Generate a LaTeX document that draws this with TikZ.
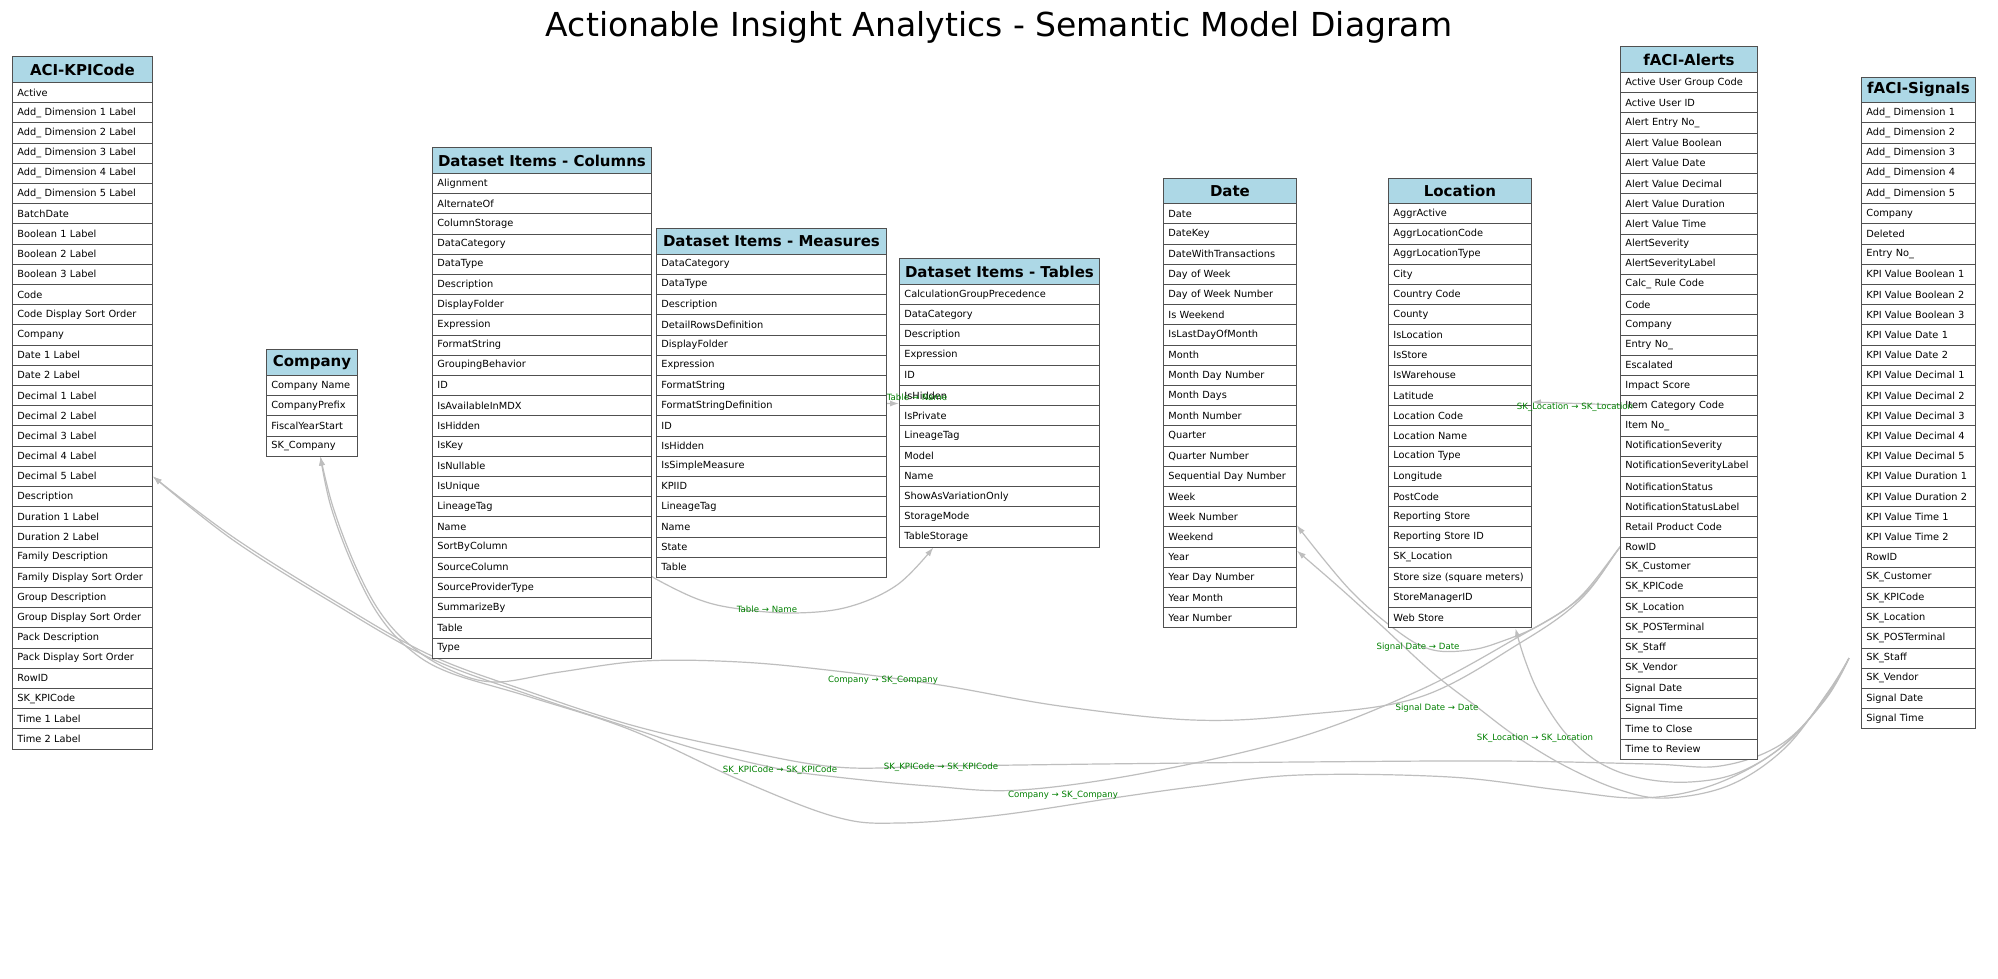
\documentclass[tikz,border=0pt]{standalone}
\usepackage{fontspec}
\setmainfont{DejaVu Sans}
\usetikzlibrary{arrows.meta}
\pgfdeclarelayer{edgelayer}
\pgfdeclarelayer{labellayer}
\pgfsetlayers{edgelayer,main,labellayer}
\definecolor{hdrfill}{RGB}{173,216,230}
\definecolor{bordergray}{RGB}{80,80,80}
\definecolor{edgegray}{RGB}{190,190,190}
\definecolor{lblgreen}{RGB}{0,128,0}
\tikzset{
  hdr/.style={draw=bordergray, fill=hdrfill, line width=0.9pt, inner sep=0pt, minimum height=25.6pt, font=\fontsize{15}{16}\selectfont\bfseries},
  rowcell/.style={draw=bordergray, fill=white, line width=0.8pt, inner xsep=5pt, inner ysep=0pt, minimum height=20.2pt, align=left, font=\fontsize{9.8}{11}\selectfont},
  rel/.style={draw=edgegray, line width=1.2pt, -{Latex[length=9pt,width=6pt]}},
  rellabel/.style={text=lblgreen, font=\fontsize{8.6}{9}\selectfont, inner sep=0pt},
  titletext/.style={font=\fontsize{33}{36}\selectfont, inner sep=0pt}
}
\newcommand{\dbtable}[6]{%
  \pgfmathsetmacro{\tbtop}{402.5-(25.6+#4*20.2)/2}%
  \pgfmathsetmacro{\tbtw}{#3-10}%
  \node[hdr, minimum width=#3pt, anchor=north west] (#1) at (#2,\tbtop) {#5};%
  \foreach \rowtext [count=\ri] in {#6} {%
    \pgfmathsetmacro{\rowy}{\tbtop+25.6+(\ri-1)*20.2}%
    \node[rowcell, text width=\tbtw pt, anchor=north west] (#1-\ri) at (#2,\rowy) {\mbox{\rowtext}};%
  }%
}
\begin{document}
\begin{tikzpicture}[x=1pt,y=-1pt]
\path[use as bounding box] (0,0) rectangle (1998,978);
\node[titletext, anchor=base] (title) at (999,36) {Actionable Insight Analytics - Semantic Model Diagram};

\dbtable{kpi}{12}{140}{33}{ACI-KPICode}{Active, Add\_ Dimension 1 Label, Add\_ Dimension 2 Label, Add\_ Dimension 3 Label, Add\_ Dimension 4 Label, Add\_ Dimension 5 Label, BatchDate, Boolean 1 Label, Boolean 2 Label, Boolean 3 Label, Code, Code Display Sort Order, Company, Date 1 Label, Date 2 Label, Decimal 1 Label, Decimal 2 Label, Decimal 3 Label, Decimal 4 Label, Decimal 5 Label, Description, Duration 1 Label, Duration 2 Label, Family Description, Family Display Sort Order, Group Description, Group Display Sort Order, Pack Description, Pack Display Sort Order, RowID, SK\_KPICode, Time 1 Label, Time 2 Label}
\dbtable{company}{266}{91}{4}{Company}{Company Name, CompanyPrefix, FiscalYearStart, SK\_Company}
\dbtable{cols}{432}{219}{24}{Dataset Items - Columns}{Alignment, AlternateOf, ColumnStorage, DataCategory, DataType, Description, DisplayFolder, Expression, FormatString, GroupingBehavior, ID, IsAvailableInMDX, IsHidden, IsKey, IsNullable, IsUnique, LineageTag, Name, SortByColumn, SourceColumn, SourceProviderType, SummarizeBy, Table, Type}
\dbtable{meas}{656}{230}{16}{Dataset Items - Measures}{DataCategory, DataType, Description, DetailRowsDefinition, DisplayFolder, Expression, FormatString, FormatStringDefinition, ID, IsHidden, IsSimpleMeasure, KPIID, LineageTag, Name, State, Table}
\dbtable{tabs}{899}{200}{13}{Dataset Items - Tables}{CalculationGroupPrecedence, DataCategory, Description, Expression, ID, IsHidden, IsPrivate, LineageTag, Model, Name, ShowAsVariationOnly, StorageMode, TableStorage}
\dbtable{date}{1163}{133}{21}{Date}{Date, DateKey, DateWithTransactions, Day of Week, Day of Week Number, Is Weekend, IsLastDayOfMonth, Month, Month Day Number, Month Days, Month Number, Quarter, Quarter Number, Sequential Day Number, Week, Week Number, Weekend, Year, Year Day Number, Year Month, Year Number}
\dbtable{loc}{1388}{143}{21}{Location}{AggrActive, AggrLocationCode, AggrLocationType, City, Country Code, County, IsLocation, IsStore, IsWarehouse, Latitude, Location Code, Location Name, Location Type, Longitude, PostCode, Reporting Store, Reporting Store ID, SK\_Location, Store size (square meters), StoreManagerID, Web Store}
\dbtable{alerts}{1620}{137}{34}{fACI-Alerts}{Active User Group Code, Active User ID, Alert Entry No\_, Alert Value Boolean, Alert Value Date, Alert Value Decimal, Alert Value Duration, Alert Value Time, AlertSeverity, AlertSeverityLabel, Calc\_ Rule Code, Code, Company, Entry No\_, Escalated, Impact Score, Item Category Code, Item No\_, NotificationSeverity, NotificationSeverityLabel, NotificationStatus, NotificationStatusLabel, Retail Product Code, RowID, SK\_Customer, SK\_KPICode, SK\_Location, SK\_POSTerminal, SK\_Staff, SK\_Vendor, Signal Date, Signal Time, Time to Close, Time to Review}
\dbtable{signals}{1861}{114}{31}{fACI-Signals}{Add\_ Dimension 1, Add\_ Dimension 2, Add\_ Dimension 3, Add\_ Dimension 4, Add\_ Dimension 5, Company, Deleted, Entry No\_, KPI Value Boolean 1, KPI Value Boolean 2, KPI Value Boolean 3, KPI Value Date 1, KPI Value Date 2, KPI Value Decimal 1, KPI Value Decimal 2, KPI Value Decimal 3, KPI Value Decimal 4, KPI Value Decimal 5, KPI Value Duration 1, KPI Value Duration 2, KPI Value Time 1, KPI Value Time 2, RowID, SK\_Customer, SK\_KPICode, SK\_Location, SK\_POSTerminal, SK\_Staff, SK\_Vendor, Signal Date, Signal Time}

% connector end points
\coordinate (kTip) at (kpi-20.east);
\coordinate (cTip) at ([xshift=8.5pt]company-4.south);
\coordinate (tTipB) at ([xshift=-66pt]tabs-13.south);
\coordinate (tTipL) at ([yshift=-8pt]tabs-6.west);
\coordinate (lTip1) at ([yshift=-6.5pt]loc-10.east);
\coordinate (lTip2) at ([xshift=55.5pt]loc-21.south);
\coordinate (d1Tip) at ([yshift=-8.5pt]date-16.east);
\coordinate (d2Tip) at ([yshift=6.5pt]date-18.east);
\coordinate (aOut) at ([xshift=-38.5pt]alerts-22.center);
\coordinate (aOut2) at ([xshift=-48.5pt]alerts-17.center);
\coordinate (sOut) at ([xshift=-12pt]signals-28.west);
\coordinate (tn1s) at ([xshift=-11pt]cols-20.east);
\coordinate (tn2s) at ([xshift=-16pt,yshift=2pt]meas-8.east);

\begin{pgfonlayer}{edgelayer}
\fill[white] (0,0) rectangle (1998,978);
% Table -> Name (bottom)
\draw[rel] plot[smooth, tension=0.6] coordinates {(tn1s) (656,579) (700,600) (740,609) (794,613) (848,607) (897,585) (tTipB)};
% Table -> Name (side)
\draw[rel] (tn2s) -- (tTipL);
% SK_Location (Alerts)
\draw[rel] (aOut2) -- (lTip1);
% Company (Alerts)
\draw[rel] plot[smooth, tension=0.6] coordinates {(aOut) (1620,547) (1580,600) (1520,643) (1420,697) (1300,715) (1193,720) (1060,706) (940,685) (836,671) (740,662) (644,661) (560,672) (495,682) (450,670) (410,645) (380,612) (355,565) (333,507) (cTip)};
% SK_KPICode (Alerts)
\draw[rel] plot[smooth, tension=0.6] coordinates {(aOut) (1620,547) (1580,598) (1513,640) (1420,690) (1300,737) (1150,772) (1020,790) (930,786) (836,777) (780,769) (700,750) (631,728) (530,695) (430,658) (333,603) (233,540) (kTip)};
% Signal Date (Alerts)
\draw[rel] plot[smooth, tension=0.6] coordinates {(aOut) (1620,547) (1580,597) (1540,625) (1500,642) (1470,650) (1433,650) (1400,633) (1350,590) (d1Tip)};
% Company (Signals)
\draw[rel] plot[smooth, tension=0.6] coordinates {(sOut) (1825,700) (1775,752) (1710,786) (1640,798) (1560,790) (1450,777) (1300,775) (1200,786) (1120,797) (1000,815) (900,823) (836,817) (740,780) (631,730) (530,697) (448,672) (408,648) (378,614) (353,566) (331,507) (cTip)};
% SK_KPICode (Signals)
\draw[rel] plot[smooth, tension=0.6] coordinates {(sOut) (1822,703) (1780,745) (1720,766) (1650,764) (1500,761) (1300,762) (1100,764) (941,766) (836,767) (730,748) (631,725) (530,692) (430,655) (333,600) (233,537) (kTip)};
% Signal Date (Signals)
\draw[rel] plot[smooth, tension=0.6] coordinates {(sOut) (1828,692) (1785,748) (1730,785) (1667,798) (1620,790) (1567,767) (1517,737) (1477,707) (1433,673) (1383,627) (1340,588) (d2Tip)};
% SK_Location (Signals)
\draw[rel] plot[smooth, tension=0.6] coordinates {(sOut) (1830,690) (1790,740) (1740,772) (1690,782) (1640,778) (1600,763) (1567,735) (1540,695) (1525,660) (lTip2)};
\end{pgfonlayer}

\begin{pgfonlayer}{labellayer}
\node[rellabel] (l-tn1) at (767,609) {Table → Name};
\node[rellabel] (l-tn2) at (917,397) {Table → Name};
\node[rellabel] (l-sl1) at (1575,407) {SK\_Location → SK\_Location};
\node[rellabel] (l-co1) at (883,680) {Company → SK\_Company};
\node[rellabel] (l-sd1) at (1418,647) {Signal Date → Date};
\node[rellabel] (l-sd2) at (1437,708) {Signal Date → Date};
\node[rellabel] (l-sl2) at (1535,738) {SK\_Location → SK\_Location};
\node[rellabel] (l-k1) at (780,770) {SK\_KPICode → SK\_KPICode};
\node[rellabel] (l-k2) at (941,767) {SK\_KPICode → SK\_KPICode};
\node[rellabel] (l-co2) at (1063,795) {Company → SK\_Company};
\end{pgfonlayer}
\end{tikzpicture}
\end{document}
